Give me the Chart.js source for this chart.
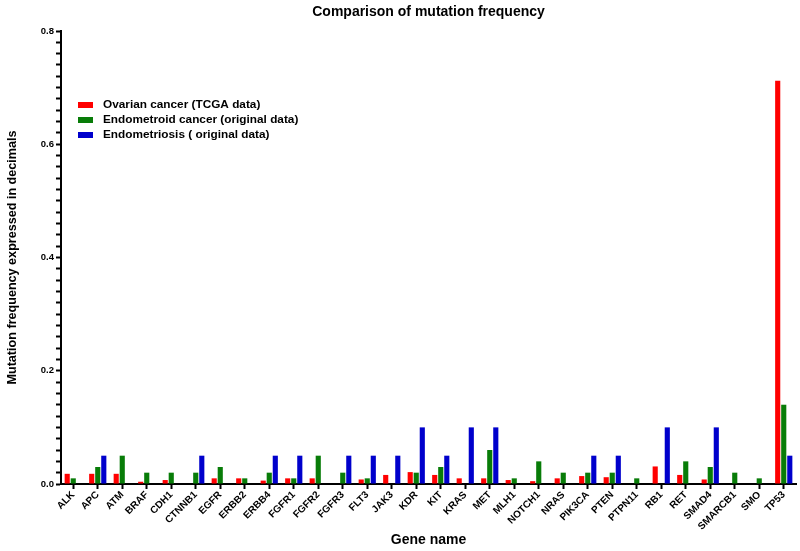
<!DOCTYPE html>
<html>
<head>
<meta charset="utf-8">
<script src="https://cdn.jsdelivr.net/npm/chart.js@4/dist/chart.umd.min.js"></script>
<style>
  html, body { margin: 0; padding: 0; background: #fff; }
  #wrap { width: 800px; height: 551px; position: relative; }
</style>
</head>
<body>
<div id="wrap"><canvas id="c" width="800" height="551"></canvas></div>
<script>
const genes = ["ALK","APC","ATM","BRAF","CDH1","CTNNB1","EGFR","ERBB2","ERBB4","FGFR1","FGFR2","FGFR3","FLT3","JAK3","KDR","KIT","KRAS","MET","MLH1","NOTCH1","NRAS","PIK3CA","PTEN","PTPN11","RB1","RET","SMAD4","SMARCB1","SMO","TP53"];
const ovarian = [0.018,0.018,0.018,0.004,0.007,0,0.01,0.01,0.006,0.01,0.01,0,0.008,0.016,0.021,0.016,0.01,0.01,0.007,0.005,0.01,0.014,0.012,0,0.031,0.016,0.008,0,0,0.712];
const endometroid = [0.01,0.03,0.05,0.02,0.02,0.02,0.03,0.01,0.02,0.01,0.05,0.02,0.01,0,0.02,0.03,0,0.06,0.01,0.04,0.02,0.02,0.02,0.01,0,0.04,0.03,0.02,0.01,0.14];
const endometriosis = [0,0.05,0,0,0,0.05,0,0,0.05,0.05,0,0.05,0.05,0.05,0.1,0.05,0.1,0.1,0,0,0,0.05,0.05,0,0.1,0,0.1,0,0,0.05];
const seriesLabels = ["Ovarian cancer (TCGA data)","Endometroid cancer (original data)","Endometriosis ( original data)"];
const yMajorTicks = [0.0,0.2,0.4,0.6,0.8];
const titleText = "Comparison of mutation frequency";

const FONT = "'Liberation Sans', Arial, sans-serif";
const colors = ["#ff0000", "#087c08", "#0000cc"];

const titlePlugin = {
  id: 'customTitle',
  afterDraw(chart) {
    const ctx = chart.ctx, a = chart.chartArea;
    ctx.save();
    ctx.font = "bold 14px " + FONT;
    ctx.fillStyle = "#000";
    ctx.textAlign = "center";
    ctx.textBaseline = "middle";
    ctx.fillText(titleText, (a.left + a.right) / 2, 12);
    ctx.font = "bold 11.8px " + FONT;
    ctx.textAlign = "left";
    chart.data.datasets.forEach((ds, i) => {
      const y = 105 + i * 15;
      ctx.fillStyle = ds.backgroundColor;
      ctx.fillRect(78, y - 3, 15, 6);
      ctx.fillStyle = "#000";
      ctx.fillText(ds.label, 103, y);
    });
    ctx.restore();
  }
};

new Chart(document.getElementById('c'), {
  type: 'bar',
  data: {
    labels: genes,
    datasets: [
      { label: seriesLabels[0], data: ovarian, backgroundColor: colors[0] },
      { label: seriesLabels[1], data: endometroid, backgroundColor: colors[1] },
      { label: seriesLabels[2], data: endometriosis, backgroundColor: colors[2] }
    ]
  },
  options: {
    responsive: false,
    animation: false,
    devicePixelRatio: 1,
    layout: { padding: { top: 31, right: 4, left: 5, bottom: 0 } },
    datasets: { bar: { categoryPercentage: 0.74, barPercentage: 0.85 } },
    plugins: {
      legend: { display: false },
      title: { display: false },
      tooltip: { enabled: false }
    },
    scales: {
      x: {
        offset: true,
        grid: { display: true, drawOnChartArea: false, offset: false, drawTicks: true, tickLength: 5, tickWidth: 2, tickColor: '#000' },
        border: { display: true, color: '#000', width: 2 },
        ticks: {
          autoSkip: false, maxRotation: 45, minRotation: 45, color: '#000', padding: 0,
          font: { family: FONT, size: 10, weight: 'bold' }
        },
        title: {
          display: true, text: 'Gene name', color: '#000',
          font: { family: FONT, size: 14, weight: 'bold' },
          padding: { top: 4, bottom: 2 }
        },
        afterFit(scale) { scale.height = 551 - 484; }
      },
      y: {
        min: 0, max: 0.8,
        grid: { display: true, drawOnChartArea: false, drawTicks: true, tickLength: 5, tickWidth: 2, tickColor: '#000' },
        border: { display: true, color: '#000', width: 2 },
        ticks: {
          stepSize: 0.02, autoSkip: false, color: '#000', padding: 2,
          font: { family: FONT, size: 9.5, weight: 'bold' },
          callback(v) {
            const m = yMajorTicks.find(t => Math.abs(t - v) < 1e-6);
            return m === undefined ? '' : m.toFixed(1);
          }
        },
        title: {
          display: true, text: 'Mutation frequency expressed in decimals', color: '#000',
          font: { family: FONT, size: 12.6, weight: 'bold' },
          padding: { top: 0, bottom: 4 }
        },
        afterFit(scale) { scale.width = 61 - 5; }
      }
    }
  },
  plugins: [titlePlugin]
});
</script>
</body>
</html>
